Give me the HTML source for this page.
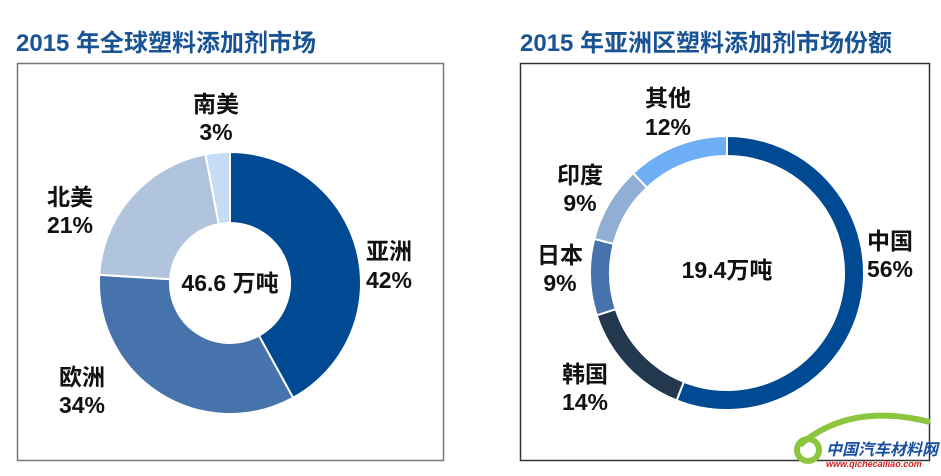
<!DOCTYPE html><html><head><meta charset="utf-8"><style>
body{margin:0;background:#fff;width:941px;height:471px;overflow:hidden;font-family:"Liberation Sans","Noto Sans CJK SC",sans-serif}
</style></head><body>
<svg id="s" width="941" height="471" xmlns="http://www.w3.org/2000/svg" font-family="Liberation Sans, Noto Sans CJK SC, sans-serif" font-weight="bold">
<text x="16" y="51" font-size="24" fill="#1a5394">2015 年全球塑料添加剂市场</text>
<text x="520" y="51" font-size="24" fill="#1a5394">2015 年亚洲区塑料添加剂市场份额</text>
<rect x="17.5" y="63.5" width="426" height="397" fill="none" stroke="#777" stroke-width="1.5"/>
<rect x="520.5" y="63.5" width="409" height="397" fill="none" stroke="#333" stroke-width="1.5"/>
<g id="d1"></g><g id="d2"></g>
<g font-size="23" fill="#111" text-anchor="middle">
<text x="216" y="112">南美</text><text x="216" y="140">3%</text>
<text x="70" y="205">北美</text><text x="70" y="233">21%</text>
<text x="389" y="259">亚洲</text><text x="389" y="288">42%</text>
<text x="82" y="385">欧洲</text><text x="82" y="413">34%</text>
<text x="230" y="291">46.6 万吨</text>
<text x="668" y="106">其他</text><text x="668" y="135">12%</text>
<text x="580" y="183">印度</text><text x="580" y="211">9%</text>
<text x="560" y="263">日本</text><text x="560" y="291">9%</text>
<text x="585" y="382">韩国</text><text x="585" y="410">14%</text>
<text x="890" y="249">中国</text><text x="890" y="277">56%</text>
<text x="727" y="278">19.4万吨</text>
</g>
<path d="M800 445 Q850 402 930 422" stroke="#8cc63f" stroke-width="6" fill="none"/>
<circle cx="808" cy="450" r="11" stroke="#8cc63f" stroke-width="6" fill="none"/>
<text x="826" y="455" font-size="16" fill="#1a4fa0" font-style="italic">中国汽车材料网</text>
<text x="826" y="467" font-size="9" fill="#d02020" font-style="italic">www.qichecailiao.com</text>
</svg>
<script>
function donut(g,cx,cy,R,r,data){var a=0,h='';data.forEach(function(d){var a0=a*2*Math.PI/100-Math.PI/2;a+=d[0];var a1=a*2*Math.PI/100-Math.PI/2;var L=d[0]>50?1:0;
function p(rr,t){return (cx+rr*Math.cos(t)).toFixed(2)+' '+(cy+rr*Math.sin(t)).toFixed(2)}
h+='<path d="M'+p(R,a0)+' A'+R+' '+R+' 0 '+L+' 1 '+p(R,a1)+' L'+p(r,a1)+' A'+r+' '+r+' 0 '+L+' 0 '+p(r,a0)+'Z" fill="'+d[1]+'" stroke="#fff" stroke-width="2"/>';});
document.getElementById(g).innerHTML=h;}
donut('d1',230,283,131,60,[[42,'#004a94'],[34,'#4673ab'],[21,'#b0c4de'],[3,'#c6dcf5']]);
donut('d2',727,273,137,117,[[56,'#004a94'],[14,'#23374f'],[9,'#4673ab'],[9,'#91aed4'],[12,'#6eaef5']]);
</script>
</body></html>
